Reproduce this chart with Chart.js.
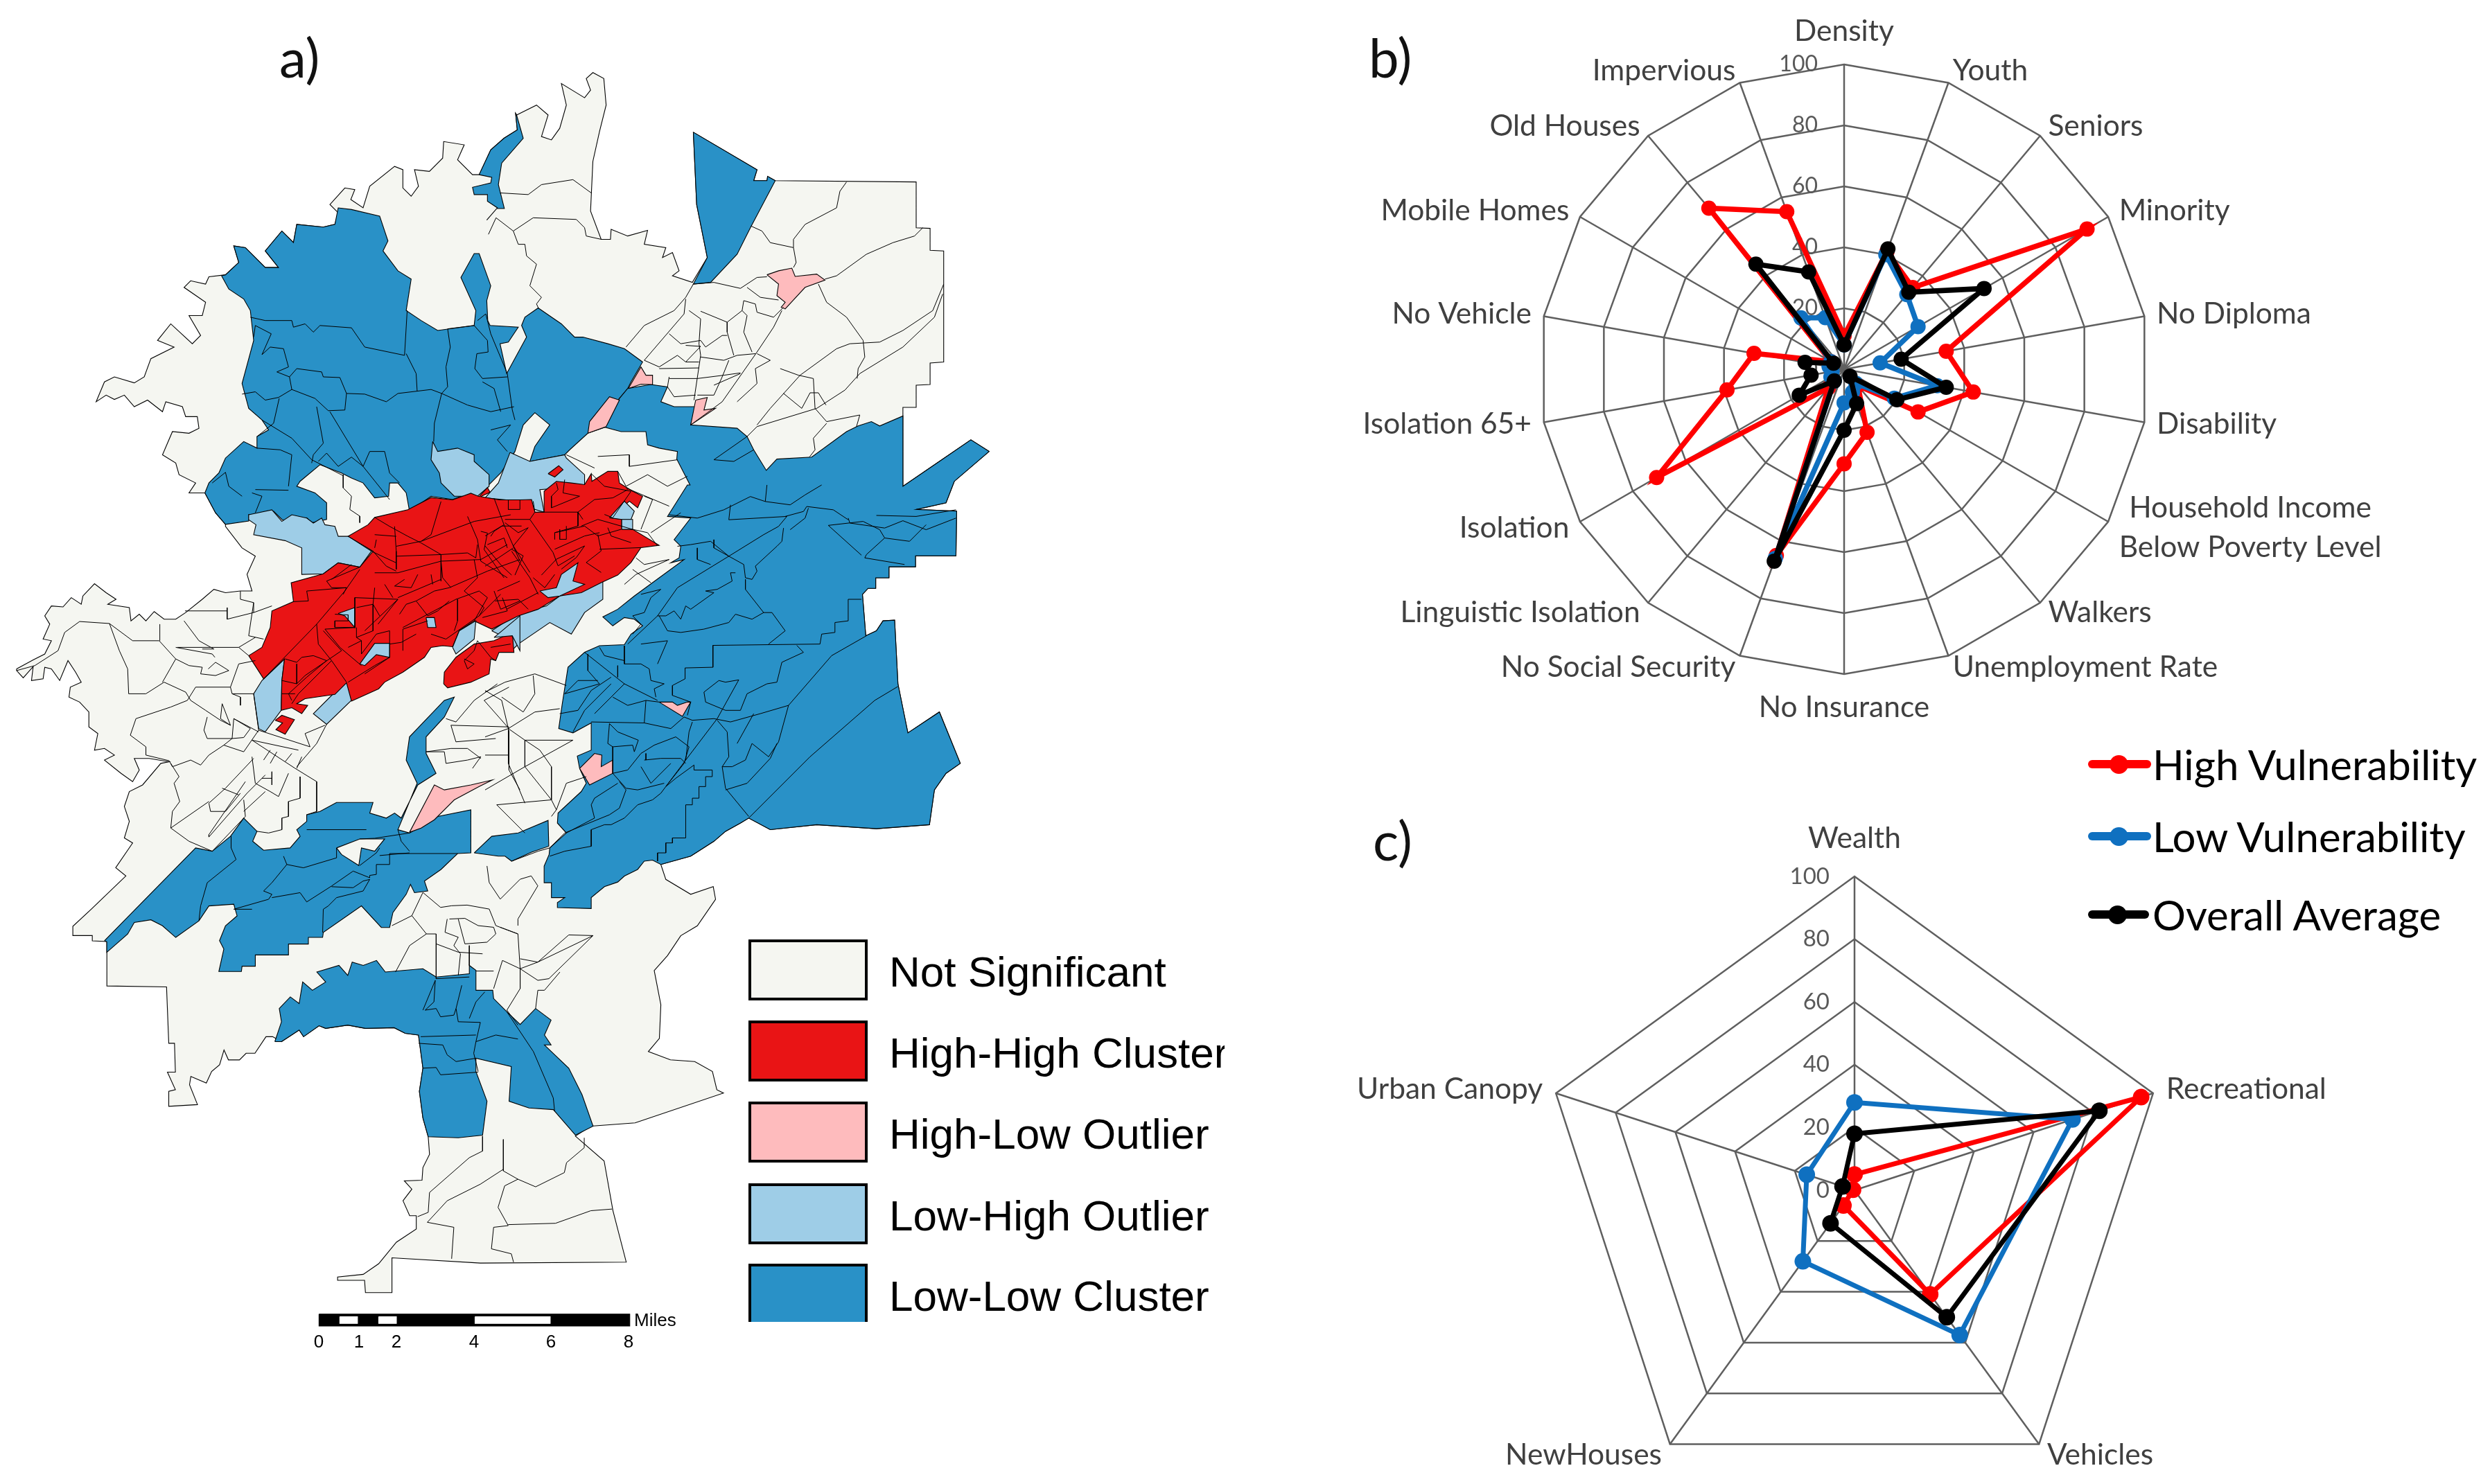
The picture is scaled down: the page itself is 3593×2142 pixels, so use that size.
<!DOCTYPE html>
<html><head><meta charset="utf-8">
<script src="https://cdn.jsdelivr.net/npm/chart.js@4/dist/chart.umd.min.js"></script>
<style>
html,body{margin:0;padding:0;background:#fff;width:3593px;height:2142px;overflow:hidden;position:relative}
canvas{position:absolute;display:block}
.t{position:absolute;white-space:nowrap;line-height:1}
.panel{font-family:Lato,sans-serif;font-size:78px;color:#111}
#mapLegend{position:absolute;left:1080px;top:1356px;width:687px;height:552px;overflow:hidden}
#mapLegend .sw{position:absolute;left:0;width:164px;height:80px;border:4px solid #000}
#mapLegend .tx{position:absolute;left:203px;font:62px "Liberation Sans",Arial,sans-serif;color:#000;white-space:nowrap;line-height:62px}
.bar{font:26px "Liberation Sans",Arial,sans-serif;color:#000}
.lg{font-family:Lato,sans-serif;font-size:60px;color:#000}
.ll{position:absolute;height:12px;border-radius:6px}
.lm{position:absolute;width:27px;height:27px;border-radius:50%}
</style></head><body>
<canvas id="map" width="1800" height="2142" style="left:0;top:0"></canvas>
<canvas id="radarB" width="1693" height="1050" style="left:1900px;top:0"></canvas>
<canvas id="radarC" width="1693" height="962" style="left:1900px;top:1180px"></canvas>
<div class="t panel" style="left:403px;top:43px">a)</div>
<div class="t panel" style="left:1975px;top:43px">b)</div>
<div class="t panel" style="left:1981px;top:1173px">c)</div>
<div id="mapLegend"></div>
<div id="barLabels"></div>
<div id="lineLegend"></div>
<script>
/* ---------- radar data ---------- */
const vulnLabels=['Density','Youth','Seniors','Minority','No Diploma','Disability',['Household Income','Below Poverty Level'],'Walkers','Unemployment Rate','No Insurance','No Social Security','Linguistic Isolation','Isolation','Isolation 65+','No Vehicle','Mobile Homes','Old Houses','Impervious'];
const vulnHigh=[11,41,35,92,34,43,28,7,22,31,65,8,71,39,30,5,69,55];
const vulnLow=[8,40,32,28,12,31,19,6,8,11,66,5,5,4,5,5,22,18];
const vulnOverall=[8,42,33,53,19,34,20,3,12,20,67,5,17,11,13,4,45,34];
const capLabels=['Wealth','Recreational','Vehicles','NewHouses','Urban Canopy'];
const capHigh=[5,96,41,6,0.5];
const capLow=[28,73,57,28,16];
const capOverall=[18,82,50,13,4];
const radialTicks=[0,20,40,60,80,100];
const seriesNames=['High Vulnerability','Low Vulnerability','Overall Average'];
const seriesColors=['#FF0000','#0F70C0','#000000'];
const clusterNames=['Not Significant','High-High Cluster','High-Low Outlier','Low-High Outlier','Low-Low Cluster'];
const clusterColors=['#F5F6F1','#E91415','#FEBBBD','#9ECDE7','#2991C7'];
const scaleMiles=[0,1,2,4,6,8];

/* ---------- map data: outlines, each part in the map sheet it was read from ---------- */
const sheets={A:[0,167,1],B:[1463,167,1],C:[0,1463,1],D:[1463,1463,1],E:[209,2612.5,1.333]};
const baseOutline=[
['C',[50,555,100,528,135,510,155,470,130,465,150,420,135,395,155,365,190,368,215,340,245,360,250,335,285,298,320,325,350,345,325,360,390,370,395,410,420,390,440,410,465,382,495,405,530,405,560,385,610,345,645,315,680,325,725,320,760,320,745,270,770,215,730,190,680,125]],
['A',[680,1415,650,1380,618,1320,570,1320,590,1290,540,1265,530,1230,490,1205,520,1135,570,1140,600,1125,595,1090,560,1090,550,1060,500,1045,490,1075,445,1040,405,1060,375,1025,345,1038,320,1025,290,1045,315,985,345,970,405,988,435,970,455,915,525,880,475,860,515,810,580,870,605,845,570,785,610,785,620,745,555,700,575,680,620,690,630,668,680,662,720,625,705,575,740,580,800,640,840,640,800,590,850,530,885,565,895,510,975,518,1010,510,1020,475,995,450,1040,400,1070,405,1058,435,1095,460,1115,395,1190,335,1215,345,1215,400,1240,425,1262,395,1250,345,1295,350,1335,310,1338,260,1400,270,1380,315,1425,360,1445,360,1480,285,1520,250,1560,225,1555,175]],
['B',[95,180,155,150,190,180,170,245,200,255,225,220,245,150,230,85,300,128,318,105,305,70,325,52,358,70,365,150,345,230,325,320,318,470,350,555,378,555,380,525,430,545,490,528,480,570,545,580,535,610,565,595,585,650,565,665,625,685,670,610,638,450,628,232,820,345,810,378,850,378,852,365,875,378,1300,382,1300,520,1342,522,1342,588,1383,590,1383,925,1342,928,1342,993,1300,995,1300,1062,1260,1062,1260,1300,1370,1225,1465,1160,1520,1195,1415,1285,1390,1350,1300,1370,1422,1375]],
['D',[1420,214,1298,214,1298,247,1218,247,1218,280,1178,280,1178,312,1155,312,1138,330,1148,455,1180,440,1200,410,1235,408,1245,600,1275,748,1370,685,1433,840,1390,870,1355,920,1340,1025,1180,1037,1000,1025,860,1040,795,1005,770,1020,725,1045,690,1075,620,1120,530,1145,545,1190,620,1235,688,1212,695,1250,640,1330,590,1360,550,1420,510,1465,530,1568]],
['E',[1335,520,1310,560,1360,585,1415,590,1455,620,1465,675,1480,685,1280,775,1180,785,1145,815,1210,890,1230,1040,1260,1195,930,1198,730,1182,730,1287,670,1287,668,1250,607,1250,607,1240,665,1232,700,1200,740,1135,785,1095,785,1055,770,1055,755,1010,775,975,758,950,798,948,800,910,815,870,812,817,800,760,792,680,800,610,790,510,760,505,735,488,670,490,630,480,580,490,565,482,530,515,520,495,480,530,460,515,445,515,420,565,400,565,385,585,360,585,350,555,340,600,322,620,310,655,275,635,272,660,290,720,225,725,225,680,240,675,222,622,240,622,238,535,225,535,220,365,85,362,85,228,52,226,52,210,8,210,8,182,50,130,128,30,105,5]],
['C',[400,1080,375,1065,390,1015,375,970,390,925,430,905,485,840,510,835,450,825,405,825,420,860,400,895,365,870,315,830,345,815,315,795,285,800,295,750,268,730,268,685,240,655,208,640,212,610,245,595,228,565,205,530,180,590,155,555,135,550,130,585,95,590,100,548,70,582,50,560]]
];
const blueRings=[
[['A',[668,665,680,662,720,625,705,575,740,580,800,640,840,640,800,590,850,530,885,565,895,510,975,518,1010,510,1020,460,1060,465,1145,485,1170,560,1155,590,1200,650,1240,675,1225,770,1270,800,1320,830,1430,815,1435,770,1390,670,1430,598,1445,598,1480,695]],
 ['B',[5,740,8,800,15,815,100,820,70,865,45,870,65,960,125,850,110,815,120,790,160,762,230,810,270,850,295,850,370,870,420,885,475,925,440,985,430,1005,405,1035,360,1100,362,1122,310,1140,255,1190,240,1205,135,1225,150,1180,195,1115,150,1078,115,1115,90,1195]],
 ['A',[1510,1260,1480,1290,1470,1300,1365,1340,1300,1330,1235,1375,1225,1320,1200,1290,1175,1290,1172,1330,1130,1335,1095,1290,1060,1275,1030,1260,965,1235,905,1285,895,1300,950,1320,985,1350,985,1400,940,1410,925,1395,880,1410,850,1400,825,1375,770,1385,750,1385,750,1405,680,1415,650,1380,618,1320,630,1290,660,1260,680,1215,735,1165,775,1185,775,1150,810,1130,790,1100,750,1065,730,990,765,860,755,770,735,735,690,705,668,665]]],
[['B',[360,1100,405,1035,430,1005,500,993,550,1000,530,1045,570,1060,635,1060,620,1115,760,1125,790,1150,810,1190,848,1252,880,1218,985,1212,1090,1135,1125,1118,1165,1105,1190,1118,1260,1088,1260,1300,1370,1225,1465,1160,1520,1195,1415,1285,1390,1350,1300,1370,1422,1375]],
 ['D',[1420,214,1298,214,1298,247,1218,247,1218,280,1178,280,1178,312,1155,312,1138,330,1148,455,1180,440,1200,410,1235,408,1245,600,1275,748,1370,685,1433,840,1390,870,1355,920,1340,1025,1180,1037,1000,1025,860,1040,795,1005,770,1020,725,1045,690,1075,620,1120,530,1145,505,1132,480,1135,460,1160,420,1180,400,1198,360,1212,320,1245,320,1278,218,1275,218,1260,240,1245,200,1245,200,1200,178,1200,178,1150,193,1115,195,1095,245,1050,218,1020,220,990,290,925,305,900,285,855,278,818,320,800,320,718,265,748,222,735,232,665,250,550,300,505,345,485,420,482,440,450,475,425,450,405,420,400,385,425,355,398,400,375,450,335,600,225,560,235,585,220,590,185,570,165,620,100,550,95,610,0]],
 ['B',[618,1296,578,1218,580,1195,525,1185,490,1175,485,1135,410,1135,362,1122,360,1100]]],
[['B',[628,232,820,345,810,378,850,378,852,365,875,378,800,520,760,600,680,685,628,690,670,610,638,450,628,232]]],
[['A',[1445,360,1480,285,1520,250,1560,225,1555,175]],['B',[95,180,115,250,50,325,40,390,58,462,35,462,5,497]],['A',[1500,460,1470,440,1470,420,1430,420,1425,398,1480,385,1483,368,1445,360]]],
[['C',[315,1375,590,1095,640,1105,695,1060,735,1005,775,1045,762,1075,795,1102,875,1095,905,1060,895,1040,925,1015,925,995,965,985,1015,958,1125,958,1115,990,1165,1005,1190,990,1210,1005,1260,905,1315,870,1285,810,1285,760,1340,700,1370,640,1340,650,1235,760,1225,830,1258,900,1200,1040,1235,1050,1320,1000,1420,980,1420,1110,1380,1112,1330,1160,1280,1195,1290,1225,1250,1230,1238,1205,1225,1235,1185,1290,1175,1335,1150,1335,1090,1270,975,1350,973,1365,930,1365,930,1385,870,1385,870,1418,770,1418,770,1452,730,1452,728,1468,660,1468,675,1400,662,1375,680,1330,715,1300,705,1265,630,1270,600,1315,530,1365,490,1330,455,1312,405,1320,385,1355,322,1410,322,1378,315,1375]]],
[['D',[-33,1110,20,1060,100,1050,190,1012,192,1090,140,1108,80,1135,60,1120,40,1120,-33,1110]]],
[['E',[465,530,480,470,475,430,500,395,520,415,528,350,550,375,580,350,560,320,610,300,630,330,640,290,665,300,695,285,715,320,800,310,830,335,905,325,905,300,920,315,920,375,958,375,960,400,990,440,1020,478,1055,430,1090,465,1075,510,1090,540,1075,540,1130,610,1160,690,1185,785,1145,812,1095,735,1040,730,995,710,1000,605,920,580,920,620,945,710,935,812,880,820,812,817,800,760,792,680,800,610,790,510,760,505,735,488,670,490,630,480,580,490,565,482,530,515,520,495,480,530,465,530]]]
];
const grayIslands=[[['C',[1015,1095,1085,1068,1160,1068,1130,1105,1090,1095,1082,1148,1030,1115,1015,1095]]]];
const lightRings=[
[['A',[1305,1165,1320,1195,1380,1185,1430,1205,1430,1225,1475,1265,1475,1300,1440,1330,1370,1330,1330,1290,1325,1260,1300,1220,1305,1165]]],
[['B',[75,1198,135,1225,240,1205,245,1215,300,1265,300,1300,165,1310,178,1378,150,1370,100,1345,0,1335,40,1290,75,1198]]],
[['C',[750,90,820,75,850,110,880,90,925,100,945,115,970,100,980,120,1010,125,1020,155,1050,155,1110,185,1120,200,1085,248,1020,235,975,268,910,270,910,190,860,168,765,150,772,120,750,105,750,90]]],
[['C',[858,525,850,590,848,680,800,745,780,735,765,630,790,590,858,525]]],
[['C',[1045,595,1070,640,985,722,945,690,1010,625,1045,595]]],
[['D',[20,440,95,390,130,380,185,365,225,335,290,310,355,290,355,345,300,385,260,450,195,415,100,480,80,500,80,450,40,450,20,440]]]
];
const redRings=[
[['C',[750,515,790,490,815,430,820,380,885,352,878,295,975,268,1020,235,1085,248,1125,200,1050,155,1110,120,1130,98,1230,75,1300,38,1365,45,1420,25,1445,35,1470,8,1478,22,1450,35,1505,45,1568,45]],
 ['B',[140,1340,150,1378,178,1378,178,1315,215,1285,260,1290,300,1295,320,1262,322,1285,370,1255,400,1255,405,1290,445,1315,475,1330,460,1365,435,1345,380,1395,412,1400,412,1428,445,1430,525,1478,470,1485,440,1530,400,1568]],
 ['D',[350,295,290,325,225,335,160,375,100,395,20,435]],
 ['C',[1430,410,1385,440,1365,488,1335,485,1300,490,1280,520,1215,565,1160,595,1142,615,1060,652,1045,597,1010,632,920,645,895,660,928,665,910,690,880,672,848,680,850,590,858,525,795,585,750,515]]],
[['C',[1338,600,1340,565,1375,520,1430,480,1490,470,1545,445,1550,505,1505,505,1495,530,1480,525,1475,570,1420,595,1350,612,1338,600]]],
[['C',[830,710,850,695,888,708,860,752,832,738,852,718,830,710]]],
[['B',[190,1262,222,1238,235,1250,210,1272,190,1262]]]
];
const lightHoles=[
[['C',[1085,540,1130,478,1175,478,1175,520,1135,512,1100,545,1085,540]]],
[['C',[1020,388,1070,370,1070,430,1040,395,1020,388]]],
[['C',[1285,400,1310,400,1315,430,1290,430,1285,400]]],
[['C',[1365,490,1385,440,1435,410,1430,465,1375,510,1365,490]]],
[['C',[1490,460,1568,395,1568,500,1545,455,1490,460]]],
[['D',[165,320,215,310,230,270,280,235,265,290,300,300,225,335,190,340,165,320]]],
[['B',[375,1395,420,1345,450,1375,440,1400,412,1400,375,1395]]],
[['B',[412,1400,445,1400,445,1430,412,1430,412,1400]]]
];
const pinkRings=[
[['B',[850,662,885,650,925,642,935,667,1000,660,1025,678,965,700,905,765,893,760,905,745,880,725,885,690,850,662]]],
[['B',[432,1005,470,940,485,965,505,965,505,993,470,992,432,1005]]],
[['B',[310,1140,315,1105,375,1030,405,1040,365,1120,310,1140]]],
[['B',[635,1040,670,1032,660,1070,695,1065,620,1115,635,1040]]],
[['D',[525,655,565,655,580,665,610,655,620,655,595,698,525,655]]],
[['D',[285,855,330,810,352,815,350,850,385,830,385,870,315,905,285,855]]],
[['C',[1235,1048,1310,905,1340,920,1420,905,1485,890,1445,910,1370,950,1310,1010,1270,1035,1235,1048]]]
];
const boundariesA=[
[755,790,800,800,880,800,885,820,920,810,945,835,965,815,1060,822,1100,880,1220,905,1228,770],
[1225,900,1255,960,1258,1012],
[1350,825,1358,880,1345,940,1350,1000,1332,1020,1310,1110,1308,1165],
[730,1022,770,1015,800,1040,840,1032,880,1008,950,1035,990,1072,1040,1070,1045,1020,1100,1022,1165,1045,1200,1020,1300,1008,1332,1020,1410,1055,1480,1075,1550,1060],
[880,1008,873,970,895,945,970,955,975,970,1025,972,1045,1020],
[873,970,835,955,870,940,855,885,815,880,790,903,818,840,770,815,765,850],
[842,1035,825,1110,775,1150],[775,1185,845,1190,880,1205,870,1300],
[790,1100,880,1155,940,1220,1035,1268],
[955,1060,975,1170,945,1205,940,1230],
[995,1075,1095,1240,1175,1340],
[1095,1240,1115,1195,1160,1195,1175,1260,1205,1290],
[1095,1240,1060,1212,1020,1240,985,1200,960,1225],
[1440,800,1465,780,1480,840,1530,960,1545,1070,1553,1100],
[1350,825,1430,815,1470,860,1472,895,1438,900,1432,945,1455,975,1530,970],
[1455,985,1490,1005,1510,1075],
[690,1300,680,1258,640,1290],[730,1330,690,1300],[760,1320,790,1330,770,1380],[770,1310,870,1312],
[1480,1130,1540,1115,1500,1160,1530,1195],
[1035,1265,1035,1305,1060,1330,1055,1370,1085,1390,1085,1410]
];
const boundariesB=[
[45,415,130,420,170,390,265,375,320,415],[33,490,85,530,145,490,275,495,300,520,305,545,350,555],[33,490,10,540],
[85,530,100,570,120,570,125,605,155,630,135,695,170,730,155,750,162,765],
[628,690,690,685,770,703,820,670,850,668],[790,700,830,730,885,738],[628,690,605,730,570,770,480,815,425,880],[605,735,600,780,480,920],
[615,770,650,795,645,870,650,905,630,1040],[650,772,730,805,730,835,750,905],
[730,805,775,770,780,740,815,750,820,775,870,790,900,760],[775,770,790,785,780,835,805,895],[895,770,870,820,820,895,715,1045,620,1115],
[555,840,590,870,650,860,665,880,715,845,730,845],[480,920,525,940,580,905,605,925,645,925],[650,910,720,920,760,905,815,900],
[525,945,645,943],[555,975,640,975,720,965,770,958],[735,920,715,970,690,1025,640,1025],[605,875,650,878,605,925],[555,970,550,1000,570,1030,635,1025],[690,995,770,960],
[802,515,835,530,860,565,930,580,930,555,965,510,1060,460,1070,410,1090,382],[930,580,938,625,930,640],
[1025,675,1060,665,1150,600,1230,565,1295,545,1320,520],
[1005,690,1030,745,1090,790,1140,860,1145,910,1125,945,1122,975],
[820,1115,860,1065,950,965,1060,885,1100,870,1190,865,1260,830,1350,770,1383,690],
[790,1150,820,1120,1000,1065,1085,1010,1130,960,1260,880,1355,790,1380,720],
[890,945,945,965,990,975,995,1065,1030,1105,1130,1085,1120,1120],[1030,1110,990,1155,995,1190,978,1212],
[900,1020,955,1065,980,1018,1005,1018,1028,1055],[820,900,860,920,815,945,820,990,760,1045],
[790,1150,690,1220,750,1225,810,1190],
[245,1205,330,1245],[340,1210,435,1205,435,1240,580,1220],[400,1255,425,1300,490,1265,550,1300,610,1270],[425,1305,555,1360],
[470,1430,505,1340,480,1330],[500,1440,590,1380],[445,1430,490,1440,520,1480],
[145,1345,150,1378,280,1378,295,1400],[280,1378,280,1420,210,1440,210,1460],[150,1378,135,1400,60,1400],[60,1410,100,1440,130,1425,85,1480,135,1560],
[0,1450,50,1420,110,1420],[70,1340,70,1370,105,1370,105,1340],[215,1290,220,1310,200,1330,200,1365,285,1330,235,1320,240,1280],
[320,1262,360,1300,440,1315,385,1395,360,1385],[280,1378,330,1340,385,1335,430,1310],[290,1420,340,1400,445,1430],[210,1440,300,1420,340,1450,410,1430],
[225,1430,225,1460,245,1460,245,1420],[340,1445,350,1495,305,1530,350,1560],[370,1425,380,1450,440,1470],[345,1490,470,1485],
[210,1490,300,1450,345,1440],[215,1520,300,1480,275,1515,230,1550],[0,1480,50,1540,80,1568],[80,1490,115,1510,90,1568],[170,1568,215,1520],[135,1400,205,1500,220,1540,270,1510]
];
const boundariesC=[
[1190,125,1195,200,1195,255],[1130,98,1175,125,1230,155,1270,175,1330,210,1330,290],[1195,185,1270,170,1430,110,1540,90],[1195,215,1330,210],
[1330,50,1300,150,1270,170],[1410,95,1440,165,1450,230,1530,280],[1490,40,1520,120,1568,230],[1050,155,1120,200,1195,235],[1125,200,1165,245,1195,260],[1130,150,1195,155],[1130,190,1135,165],
[1085,248,985,290,1000,310,1045,310,1035,330],[1045,310,925,320,930,350,885,352],[1060,240,1000,285],
[1085,255,1040,320,955,420,795,585],[1130,265,1200,265,1330,230,1450,225,1530,180],
[1070,340,1070,430,980,435],[1070,340,1200,345],[1130,310,1125,360,1145,395],[1160,300,1185,340],
[1010,390,1050,392,1050,410,1010,410,1010,430,1070,430],[1075,370,1125,360,1125,440,1075,460,1075,430],
[955,420,960,480,1000,530,1045,595],[980,435,1025,490,1090,545],[975,440,1030,500,920,575,895,600],
[860,525,895,535,910,520,945,515,985,530,925,580,870,630,880,650],[895,540,895,600,850,590],[850,630,890,630],[1000,530,900,630,880,660],
[1050,490,1090,470,1075,460],[1090,470,1090,510],[1100,570,1175,520],[1050,595,1130,545,1175,520,1175,480,1210,475,1255,450],[1215,500,1215,435,1290,410],
[1175,480,1175,440,1135,450,1090,510],[1140,420,1200,345,1100,440],[1200,340,1330,285],
[1205,390,1225,360,1255,350,1310,320,1355,310,1470,260,1568,225],[1255,350,1290,395,1320,380,1355,350],
[1215,430,1375,345,1445,320,1470,340,1430,410],[1300,450,1345,465,1445,395,1510,330],[1380,345,1380,410,1370,440],
[1430,225,1440,280,1400,320,1460,370,1445,395],[1515,340,1530,380,1455,400],[1500,320,1568,290],[1568,350,1510,375,1490,320],
[1330,230,1335,280,1360,310],[1300,270,1305,300],[1220,285,1190,305,1240,310,1260,270],
[1450,140,1470,145,1460,195,1520,280],[1470,180,1520,160,1530,190],[1520,120,1490,140,1480,155],[1330,210,1410,205,1435,220,1440,180],
[1400,525,1430,540,1410,555,1400,530,1430,500,1440,470],[1440,470,1480,520,1495,530],[1480,490,1540,480],
[1285,805,1340,805,1345,840,1410,830,1450,820,1425,855],[1535,740,1535,860,1568,920],[1360,725,1535,730],[1360,725,1375,775,1495,765],
[1500,600,1430,650,1375,715,1345,705],[1535,610,1460,650,1535,735],[1285,805,1360,795,1410,795,1450,825],
[240,412,330,418,400,470,480,470,530,525,570,545,610,550,605,570,650,575,690,560,650,535,628,555],
[330,418,360,500,385,555,388,630,440,630,495,595,560,625,575,650,620,680,665,710,695,725],
[240,412,195,445,175,500,105,545,50,560],[482,470,482,420],[530,525,490,595],[530,490,640,510,648,520],[535,490,720,490,750,515],
[555,410,600,470,645,495,610,495],[685,370,685,405,765,385,765,355,725,345,725,320],[558,380,685,380],[765,385,820,365],[765,355,750,455,795,465],[720,490,770,460],
[590,610,695,610,700,630,765,630,780,740],[565,650,590,610],[695,610,720,540,770,530],[700,630,725,640,725,665],
[410,705,515,670,565,650],[410,705,393,755,440,790,440,815,510,832,520,850,575,830,605,845,630,815,675,785,700,765,625,765,615,740,625,700],
[675,785,735,805],[700,765,705,705,780,745],[700,765,735,762,755,735,705,705],[670,660,665,705,695,725,670,660],
[780,740,935,790],[760,770,890,855],[735,805,780,740],[760,770,900,800],[795,830,815,800],[835,805,815,840],[880,810,860,835],[910,820,895,855],
[765,825,680,915,630,960,635,985,680,985,725,930],[670,915,720,935],[740,895,630,1055,630,1062,745,930,800,875],[630,955,515,1035,570,1075,640,1105,740,1000],
[760,820,770,900,815,925,840,940,870,870],[820,865,820,905],[790,885,820,885],[890,855,955,895,955,985,925,995],
[905,880,905,945,870,955,870,1000,850,1005,850,1040,810,1050,775,1045],[735,985,800,925],[735,950,740,1000],[515,840,540,880,525,900,542,955,520,985,515,1035],
[980,725,920,750,935,790],[985,722,955,780,895,850],
[697,1060,697,1095,712,1130,625,1200,605,1270,600,1315],[855,1120,865,1145,820,1200,795,1225,820,1235,810,1250,705,1280,760,1280],
[865,1145,915,1155,1015,1125,1015,1095],[1085,1148,1135,1110,1145,1095],[925,1040,1105,1040],
[820,1245,905,1230,925,1258,1000,1210,1065,1165,1115,1185,1115,1178,1135,1175,1135,1145,1175,1145,1175,1112,1380,1112],
[1000,1212,1065,1215,1095,1195,1115,1190,1095,1225,1015,1245,990,1270,975,1280,973,1350],[1200,1040,1210,1075,1235,1105],[1235,1050,1130,1066,1085,1068],[1145,1118,1235,1110]
];
const boundariesD=[
[455,220,480,240,555,225,455,270,420,300],[445,255,500,295],
[0,625,60,595,150,570,245,605],[70,735,150,685,225,675],[70,735,50,650,0,620],[70,735,0,760],[70,735,120,770,265,770,120,850,0,920],[120,770,120,850,200,950,215,980],[200,850,200,950,35,965,120,1050],[120,770,165,800,200,850],[70,735,70,840,120,960],[305,880,245,900,215,980,200,1000],[0,815,70,815],[145,575,150,630,115,685,50,640],
[80,200,135,280,160,330],[0,245,40,220,85,190],[65,375,160,325],[30,350,100,345,130,375],[145,280,180,310,210,270],
[740,60,735,105,910,95,885,125,840,150,735,215,580,310,520,395,430,480],[555,90,640,100,720,75,800,35,845,50,920,60,965,30,1015,0],[850,0,845,50],
[905,95,960,80,970,65,1050,75,1095,105],[920,135,965,100,975,70],[1035,122,1140,110,1190,135,1205,160,1150,210,1145,220,1265,240],[1035,122,1135,212],
[1095,100,1100,115,1205,130,1260,108,1330,135,1420,100],[1180,92,1300,95,1420,75],[1205,160,1280,170,1330,120],
[690,165,690,190,780,240,785,280,805,285,820,260,815,245,880,185,895,170,900,130],[580,185,620,180,680,170,735,215],[640,190,640,225,680,240],
[785,285,785,315,840,385,865,385,905,440,855,480],[755,265,740,265,745,290,700,315,665,320,690,325,620,375,605,365,590,405,570,380,545,395,520,395],
[470,330,530,315,500,340,480,385,445,395,470,420,445,450],[525,395,550,440,590,445,660,435,735,415,755,390,805,405,840,385],
[687,484,1010,480,1015,450,1055,445,1055,415,1095,410,1095,345,1135,345],
[940,484,960,505,895,535,880,595,850,600,790,630,770,680,725,680,665,655,660,625,705,590,725,595,765,588,700,705,605,830,545,910],
[687,484,687,550,603,552,603,585,565,605,565,635,620,655,610,695],[420,485,420,540,470,540,495,555,500,590,540,600,510,615,515,640],
[300,505,420,600,520,650],[345,490,360,515,420,530],[400,545,400,580],[470,480,550,470,520,540],
[310,510,310,560,345,600,240,630,280,590,340,590],[380,580,320,620,280,680,225,690],[380,600,300,680,265,745],[420,600,330,690],
[385,640,430,665,485,650,525,655],[485,650,480,718,320,715],[480,718,560,735,600,700],[375,720,370,780,385,790,445,785,450,805,462,770,400,745,375,720],
[385,790,385,870,430,860,470,810,510,785,575,760,615,790,600,840,545,910],[480,830,530,825,590,825,605,840],[470,850,500,900],[485,810,485,830],[500,900,560,840],[385,870,425,915,460,920,540,900],
[600,700,625,710,690,705,740,715,830,690,915,665,885,775,855,820,805,780,785,830,745,850,715,850,725,915,795,1000],[915,665,1045,515,1150,455],[725,920,790,900,860,825,880,780],[795,1005,980,820,1175,650,1245,608],
[700,710,730,745,735,820,715,850],[760,780,810,690],[400,900,330,945,320,965,330,1005,245,1050],[405,895,425,920,405,975,375,995,240,1050,195,1095,160,1105,80,1135],[625,715,615,745,605,830],
[605,1065,605,965,625,965,625,945,645,945,645,910,665,910,665,880,685,880,685,860,630,860,630,845,575,885,545,910,530,930,505,950,460,965,420,1005,380,1025,360,1025,320,1040,320,1090,240,1105,195,1120],
[605,1065,565,1065,565,1080,545,1080,545,1110,520,1110,520,1135]
];
const boundariesE=[
[800,80,840,125,865,120,900,118,950,130,965,180,1015,205,1020,310,1020,370,990,435],[800,80,775,150,808,205,830,205,830,340],[730,180,775,150],[808,205,770,240,738,320],
[1015,180,1015,160,1060,60,1045,30,1020,40,975,100,950,50,945,0],[855,160,850,200,880,215,870,240,885,265,880,330],[880,160,895,235,945,230,965,205,960,185,925,180,895,158,860,160],
[830,235,880,260,935,265],[905,240,905,300],[1020,280,1060,290,1185,210,1130,208,1060,290],[1060,290,1020,310,1060,345,1085,340,1185,210],[920,317,960,317],[1020,310,980,285,960,370],[1060,375,1075,375,1110,320],[1060,375,1055,430],[990,435,1015,480],[1015,205,975,185],
[830,340,905,335],[888,360,875,430,880,470,930,472,920,530,915,565,925,620],[800,435,828,345,825,410,805,435,830,430,840,455,870,450,875,430],[795,515,920,510],[790,535,845,540,855,570,875,590,920,580],[800,610,830,608,840,630,925,622],
[920,530,965,510,1015,522],[905,460,920,410,940,380],[990,440,1050,560,1095,700,1098,740],
[935,815,935,860,905,880,815,985,812,1045,788,1058],[982,825,982,920,1015,945,1055,968,1120,925,1125,895,1165,850,1165,820],[982,915,930,960,855,1010,810,1075,870,1090,865,1185],[1015,945,985,965,970,1030,993,1085,960,1090,955,1155,1000,1170,1005,1195],[993,1082,1100,1078,1180,1040,1228,1035]
];
const scaleBarBlack=[[['E',[565,1352,1268,1352,1268,1388,565,1388,565,1352]]]];
const scaleBarWhite=[[['E',[612,1360,652,1360,652,1380,612,1380,612,1360]]],[['E',[700,1360,740,1360,740,1380,700,1380,700,1360]]],[['E',[918,1360,1088,1360,1088,1380,918,1380,918,1360]]]];

/* ---------- build map chart ---------- */
function toMap(sheet,flat){const s=sheets[sheet],o=[];for(let i=0;i<flat.length;i+=2)o.push({x:s[0]+flat[i]*s[2],y:s[1]+flat[i+1]});return o;}
function ringPoints(ring){const o=[];ring.forEach(p=>o.push(...toMap(p[0],p[1])));o.push({...o[0]});return o;}
const layers=[];
function addFill(rings,color,stroke){rings.forEach(r=>layers.push({data:ringPoints(r),fill:'shape',backgroundColor:color,borderColor:stroke||'#000',borderWidth:1.1}));}
function addLines(sheet,list){list.forEach(l=>layers.push({data:toMap(sheet,l),fill:false,borderColor:'#000',borderWidth:1}));}
addFill([baseOutline],clusterColors[0]);
addFill(blueRings,clusterColors[4]);
addFill(grayIslands,clusterColors[0]);
addFill(lightRings,clusterColors[3]);
addFill(redRings,clusterColors[1]);
addFill(lightHoles,clusterColors[3]);
addFill(pinkRings,clusterColors[2]);
addLines('A',boundariesA);addLines('B',boundariesB);addLines('C',boundariesC);addLines('D',boundariesD);addLines('E',boundariesE);
addFill(scaleBarBlack,'#000');addFill(scaleBarWhite,'#fff','#fff');
layers.forEach((d,i)=>Object.assign(d,{showLine:true,pointRadius:0,tension:0,order:layers.length-i,clip:false,spanGaps:true}));
new Chart(document.getElementById('map'),{type:'scatter',data:{datasets:layers},options:{
 responsive:false,animation:false,devicePixelRatio:1,layout:{padding:0},
 plugins:{legend:{display:false},tooltip:{enabled:false}},
 scales:{x:{type:'linear',display:false,min:0,max:3762},y:{type:'linear',display:false,reverse:true,min:0,max:4477}}
}});

/* ---------- radar charts ---------- */
const tickText={id:'tickText',beforeDatasetsDraw(chart){
 const s=chart.scales.r,c=chart.ctx,g=chart.options.geom;
 c.save();c.font=g.tickSize+'px Lato, sans-serif';c.fillStyle='#595959';c.textAlign='right';c.textBaseline='middle';
 s.ticks.forEach(t=>c.fillText(String(t.value),s.xCenter-g.tickGap,s.getDistanceFromCenterForValue(t.value)*-1+s.yCenter));
 c.restore();
}};
function fixGeometry(g){return scale=>{
 scale.xCenter=g.cx;scale.yCenter=g.cy;scale.drawingArea=g.r;
 const font=Chart.helpers.toFont(scale.options.pointLabels.font),n=scale._pointLabelItems.length,c=scale.ctx;
 c.save();c.font=font.string;
 scale._pointLabelItems.forEach((it,i)=>{
  const lines=[].concat(scale._pointLabels[i]),w=Math.max(...lines.map(t=>c.measureText(t).width)),h=lines.length*font.lineHeight;
  const a=scale.getPointPosition(i,g.r+g.pad),deg=360*i/n;
  if(deg===0){it.textAlign='center';it.x=a.x;it.y=a.y-g.vgap-h/2;}
  else if(deg===180){it.textAlign='center';it.x=a.x;it.y=a.y+g.vgap-h/2;}
  else if(lines.length>1){it.textAlign='center';it.x=a.x+w/2;it.y=a.y-h/2;}
  else{it.textAlign=deg<180?'left':'right';it.x=a.x;it.y=a.y-h/2;}
 });
 c.restore();
};}
function radar(id,labels,series,g){
 new Chart(document.getElementById(id),{type:'radar',plugins:[tickText],
  data:{labels,datasets:series.map((v,i)=>({label:seriesNames[i],data:v,borderColor:seriesColors[i],backgroundColor:seriesColors[i],pointBackgroundColor:seriesColors[i],pointBorderColor:seriesColors[i],pointBorderWidth:0,pointRadius:g.dot,borderWidth:g.lw,fill:false,tension:0,order:3-i,clip:false}))},
  options:{responsive:false,animation:false,devicePixelRatio:1,geom:g,layout:{padding:0},
   plugins:{legend:{display:false},tooltip:{enabled:false}},
   scales:{r:{min:radialTicks[0],max:radialTicks[radialTicks.length-1],beginAtZero:true,
    ticks:{stepSize:20,display:false},
    grid:{color:'#5f5f5f',lineWidth:2.5,circular:false},
    angleLines:{color:'#5f5f5f',lineWidth:2.5},
    pointLabels:{font:{family:'Lato, sans-serif',size:g.font,lineHeight:g.lh},color:'#404040',padding:0},
    afterFit:fixGeometry(g)}}}
 });
}
radar('radarB',vulnLabels,[vulnHigh,vulnLow,vulnOverall],{cx:761,cy:533,r:440,pad:18,vgap:30,font:42.5,lh:'57px',dot:11,lw:7.5,tickSize:32,tickGap:38});
radar('radarC',capLabels,[capHigh,capLow,capOverall],{cx:776,cy:538,r:453,pad:20,vgap:35,font:42.5,lh:'57px',dot:12,lw:7,tickSize:33,tickGap:36});

/* ---------- legends ---------- */
const ml=document.getElementById('mapLegend');
clusterNames.forEach((n,i)=>{const top=[0,117,234,352,468][i];
 ml.insertAdjacentHTML('beforeend',`<div class="sw" style="top:${top}px;height:${i==4?120:80}px;background:${clusterColors[i]}"></div><div class="tx" style="top:${top+16}px">${n}</div>`);});
const bl=document.getElementById('barLabels');
const barX=[460,518,572,684,795,907];
scaleMiles.forEach((m,i)=>bl.insertAdjacentHTML('beforeend',`<div class="t bar" style="left:${barX[i]}px;top:1921px;transform:translateX(-50%)">${m}</div>`));
bl.insertAdjacentHTML('beforeend','<div class="t bar" style="left:915px;top:1890px">Miles</div>');
const ll=document.getElementById('lineLegend');
[1103,1207,1320].forEach((y,i)=>{
 ll.insertAdjacentHTML('beforeend',`<div class="ll" style="left:3013px;top:${y-6}px;width:${i==2?88:91}px;background:${seriesColors[i]}"></div><div class="lm" style="left:${i==2?3042:3044}px;top:${y-13}px;background:${seriesColors[i]}"></div><div class="t lg" style="left:3106px;top:${y-30}px">${seriesNames[i]}</div>`);
});
</script>
</body></html>
